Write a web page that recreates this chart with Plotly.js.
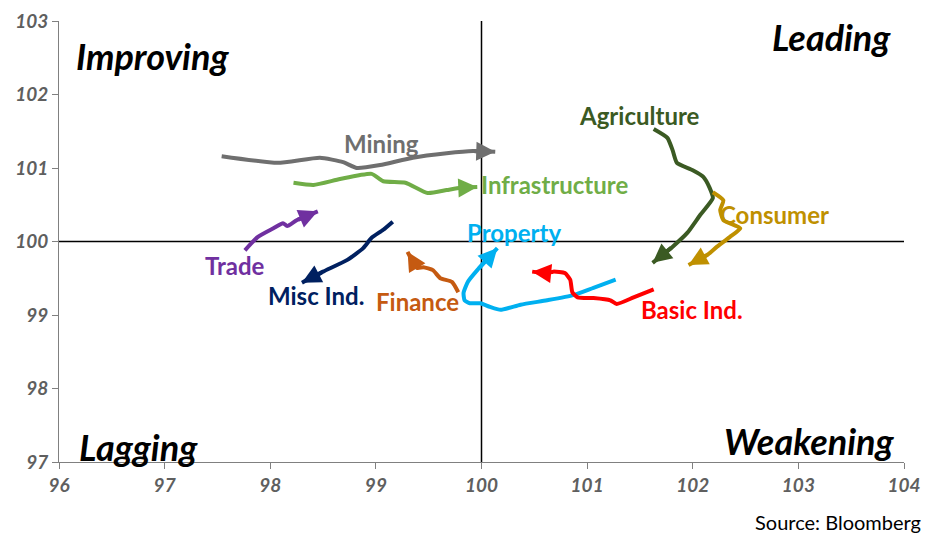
<!DOCTYPE html>
<html>
<head>
<meta charset="utf-8">
<script src="https://cdn.plot.ly/plotly-3.0.1.min.js"></script>
<style>html,body{margin:0;padding:0;background:#fff;}#chart{width:925px;height:535px;}</style>
</head>
<body>
<div id="chart"></div>
<script>
// Sector names
const sectors = ["Mining","Infrastructure","Trade","Misc Ind.","Finance","Property","Basic Ind.","Agriculture","Consumer"];
// Relative strength (x) and momentum (y) trails, oldest -> newest
const miningX = [97.54,98.07,98.47,98.69,98.82,99.04,99.35,99.67,99.92,100.13];
const miningY = [101.16,101.07,101.14,101.08,101.00,101.04,101.14,101.20,101.23,101.22];
const infraX = [98.22,98.41,98.66,98.96,99.07,99.28,99.49,99.67,99.80,99.96];
const infraY = [100.80,100.77,100.85,100.92,100.82,100.80,100.66,100.70,100.73,100.74];
const tradeX = [97.76,97.88,98.03,98.12,98.16,98.25,98.45];
const tradeY = [99.88,100.06,100.18,100.25,100.21,100.29,100.41];
const miscX = [99.16,99.07,98.96,98.88,98.73,98.50,98.30];
const miscY = [100.27,100.16,100.05,99.91,99.75,99.59,99.44];
const financeX = [99.78,99.72,99.61,99.54,99.45,99.39,99.30];
const financeY = [99.31,99.45,99.50,99.61,99.65,99.64,99.86];
const propertyX = [101.27,101.06,100.87,100.62,100.37,100.18,100.08,99.99,99.89,99.84,99.83,99.87,99.96,100.15];
const propertyY = [99.48,99.37,99.27,99.20,99.14,99.07,99.11,99.16,99.16,99.20,99.30,99.45,99.61,99.91];
const basicX = [101.63,101.44,101.28,101.22,101.06,100.91,100.86,100.84,100.79,100.68,100.62,100.48];
const basicY = [99.35,99.24,99.15,99.20,99.23,99.24,99.31,99.48,99.57,99.59,99.57,99.59];
const agriX = [101.63,101.76,101.81,101.85,102.00,102.10,102.16,102.19,102.07,101.95,101.81,101.62];
const agriY = [101.53,101.41,101.24,101.07,100.97,100.88,100.73,100.59,100.36,100.12,99.93,99.71];
const consX = [102.19,102.29,102.26,102.29,102.45,102.35,102.23,102.14,101.96];
const consY = [100.67,100.56,100.43,100.29,100.18,100.06,99.93,99.82,99.68];
// Axis ticks
const xTicks = [96,97,98,99,100,101,102,103,104];
const yTicks = [97,98,99,100,101,102,103];
// Quadrant names
const quadrants = ["Improving","Leading","Lagging","Weakening"];

const seriesX = [miningX,infraX,tradeX,miscX,financeX,propertyX,basicX,agriX,consX];
const seriesY = [miningY,infraY,tradeY,miscY,financeY,propertyY,basicY,agriY,consY];
const colors = ["#6f6f6f","#70ad47","#7030a0","#002060","#c55a11","#00b0f0","#ff0000","#3b5a23","#bf9000"];
// label placement (data coords)
const labelPos = [[99.05,101.34],[100.69,100.78],[97.67,99.68],[98.43,99.26],[99.39,99.19],[100.31,100.12],[101.99,99.07],[101.50,101.72],[102.77,100.37]];

const traces = sectors.map((name,i)=>({
  x: seriesX[i], y: seriesY[i], name: name, type: 'scatter', mode: 'lines',
  line: {color: colors[i], width: 4, shape: 'spline', smoothing: 0.5},
  hoverinfo: 'skip', showlegend: false
}));

const annotations = [];
// arrowheads on the newest point, pointing from the previous point
sectors.forEach((name,i)=>{
  const xs = seriesX[i], ys = seriesY[i], n = xs.length;
  annotations.push({x: xs[n-1], y: ys[n-1], ax: xs[n-2], ay: ys[n-2], xref: 'x', yref: 'y', axref: 'x', ayref: 'y',
    text: '', showarrow: true, arrowhead: 2, arrowsize: 0.95, arrowwidth: 4, arrowcolor: colors[i], standoff: 0, startstandoff: 0});
});
const labelFont = (c)=>({family: 'Lato, "Open Sans", sans-serif', size: 24, color: c, weight: 'bold'});
sectors.forEach((name,i)=>annotations.push({
  x: labelPos[i][0], y: labelPos[i][1], xref: 'x', yref: 'y', text: '<b>'+name+'</b>',
  showarrow: false, font: labelFont(colors[i]), xanchor: 'center', yanchor: 'middle'
}));
const qPos = [[0.111,0.921],[0.914,0.964],[0.0935,0.034],[0.888,0.048]];
quadrants.forEach((q,i)=>{
  annotations.push({x: qPos[i][0], y: qPos[i][1], xref: 'paper', yref: 'paper', text: '<b><i>'+q+'</i></b>',
    showarrow: false, xanchor: 'center', yanchor: 'middle',
    font: {family: 'Lato, "Open Sans", sans-serif', size: 36, color: '#000'}});
});
annotations.push({x: 1.022, y: -0.136, xref: 'paper', yref: 'paper', text: 'Source: Bloomberg',
  showarrow: false, xanchor: 'right', yanchor: 'middle',
  font: {family: 'Lato, "Open Sans", sans-serif', size: 20, color: '#000'}});

const tickFont = {family: 'Lato, "Open Sans", sans-serif', size: 19, color: '#5f5f5f', weight: 'bold', style: 'italic'};

const layout = {
  width: 925, height: 535,
  margin: {l: 59, r: 21, t: 21, b: 73},
  paper_bgcolor: '#fff', plot_bgcolor: '#fff',
  xaxis: {range: [96,104], tickvals: xTicks, ticktext: xTicks.map(String), showgrid: false, zeroline: false,
    showline: true, linecolor: '#808080', linewidth: 1, ticks: 'outside', ticklen: 6, tickcolor: '#808080',
    tickfont: tickFont, fixedrange: true},
  yaxis: {range: [97,103], tickvals: yTicks, ticktext: yTicks.map(String), showgrid: false, zeroline: false,
    showline: true, linecolor: '#808080', linewidth: 1, ticks: 'outside', ticklen: 6, tickcolor: '#808080',
    tickfont: tickFont, fixedrange: true},
  shapes: [
    {type: 'line', xref: 'x', yref: 'paper', x0: 100, x1: 100, y0: 0, y1: 1, line: {color: '#000', width: 1.5}, layer: 'below'},
    {type: 'line', xref: 'paper', yref: 'y', x0: 0, x1: 1, y0: 100, y1: 100, line: {color: '#000', width: 1.5}, layer: 'below'}
  ],
  annotations: annotations
};
Plotly.newPlot('chart', traces, layout, {displayModeBar: false, staticPlot: true});
</script>
</body>
</html>
